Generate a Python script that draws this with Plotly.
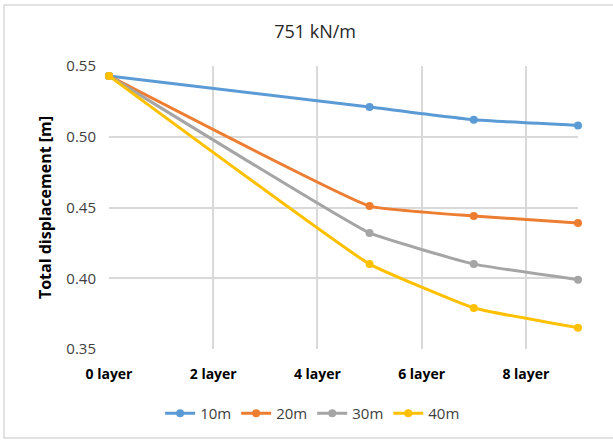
import plotly.graph_objects as go

# Number of layers and total displacement for each spacing
layers = [0, 5, 7, 9]
disp_10m = [0.543, 0.521, 0.512, 0.508]
disp_20m = [0.543, 0.451, 0.444, 0.439]
disp_30m = [0.543, 0.432, 0.410, 0.399]
disp_40m = [0.543, 0.410, 0.379, 0.365]

series_names = ["10m", "20m", "30m", "40m"]
series_colors = ["#5B9BD5", "#ED7D31", "#A5A5A5", "#FFC000"]

x_tick_vals = [0, 2, 4, 6, 8]
x_tick_text = ["0 layer", "2 layer", "4 layer", "6 layer", "8 layer"]
y_tick_vals = [0.35, 0.40, 0.45, 0.50, 0.55]
y_tick_text = ["0.35", "0.40", "0.45", "0.50", "0.55"]

fig = go.Figure()
for name, color, ys in zip(series_names, series_colors,
                           [disp_10m, disp_20m, disp_30m, disp_40m]):
    fig.add_trace(go.Scatter(
        x=layers, y=ys, name=name, mode="lines+markers",
        line=dict(color=color, width=3, shape="spline", smoothing=0.3),
        marker=dict(color=color, size=8),
        cliponaxis=False,
    ))

font_family = "Open Sans, Liberation Sans, sans-serif"

fig.update_layout(
    width=613, height=441,
    margin=dict(l=109, r=35, t=66, b=92, autoexpand=False),
    paper_bgcolor="white", plot_bgcolor="white",
    title=dict(text="751 kN/m", x=0.514, xanchor="center", xref="container",
               y=0.927, yanchor="middle",
               font=dict(family=font_family, size=18, color="#262626")),
    showlegend=True,
    legend=dict(orientation="h", x=0.51, xanchor="center", xref="container",
                y=-0.17, yanchor="top",
                font=dict(family=font_family, size=15, color="#404040"),
                itemwidth=30, tracegroupgap=0),
    xaxis=dict(range=[0, 9], tickvals=x_tick_vals, ticktext=x_tick_text,
               showgrid=True, gridcolor="#D9D9D9", gridwidth=1.5,
               zeroline=False, showline=False, ticks="", ticklabelstandoff=15,
               tickfont=dict(family=font_family, size=14, color="#000000",
                             weight="bold")),
    yaxis=dict(range=[0.35, 0.55], tickvals=y_tick_vals, ticktext=y_tick_text,
               showgrid=True, gridcolor="#D9D9D9", gridwidth=1.5,
               zeroline=False, showline=False, ticks="", ticklabelstandoff=12,
               tickfont=dict(family=font_family, size=15, color="#404040"),
               title=dict(text="Total displacement [m]", standoff=10,
                          font=dict(family=font_family, size=16, color="#000000",
                                    weight="bold"))),
    shapes=[dict(type="rect", xref="paper", yref="paper",
                 x0=-0.2239, x1=1.0768, y0=-0.3145, y1=1.2155,
                 line=dict(color="#D9D9D9", width=1.5), layer="below")],
)

fig.write_html("out.html")
